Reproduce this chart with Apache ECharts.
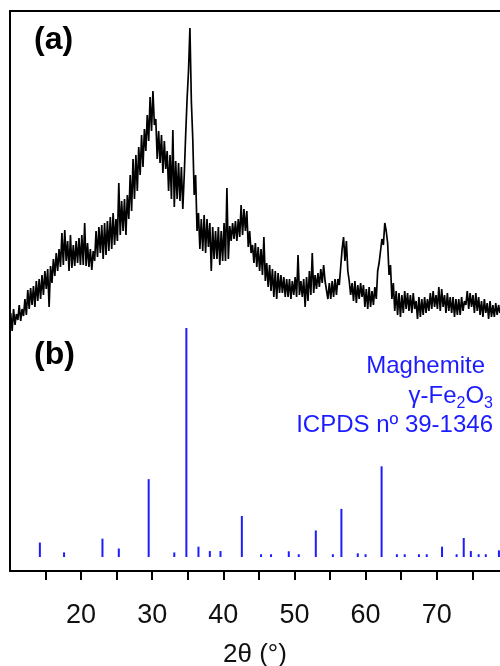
<!DOCTYPE html>
<html>
<head>
<meta charset="utf-8">
<script src="https://cdn.jsdelivr.net/npm/echarts@6/dist/echarts.min.js"></script>
<style>
  html, body { margin: 0; padding: 0; background: #fff; }
  #chart { width: 500px; height: 666px; }
</style>
</head>
<body>
<div id="chart"></div>
<script>
// (a) measured diffractogram: intensity (a.u.) on a regular 2θ scan grid
const scanStart = 10.1;   // first 2θ of the scan (°)
const scanStep = 0.2;     // 2θ step (°)
const counts = [
  258, 240, 262, 246, 257,  251, 266, 250, 262, 255,  272, 256, 281, 262, 283,
  266, 285, 264, 290, 270,  292, 272, 296, 276, 300,  282, 302, 264, 305, 288,
  312, 295, 318, 300, 322,  304, 338, 306, 341, 310,  330, 300, 336, 303, 326,
  305, 330, 308, 333, 306,  336, 306, 348, 305, 328,  304, 322, 301, 320, 310,
  340, 314, 344, 318, 346,  312, 348, 316, 350, 320,  354, 322, 358, 326, 352,
  330, 388, 336, 370, 340,  372, 336, 376, 352, 396,  360, 412, 372, 416, 380,
  424, 396, 436, 404, 442,  420, 456, 430, 474, 440,  480, 446, 452, 412, 440,
  408, 436, 398, 430, 402,  420, 380, 416, 372, 441,  364, 410, 372, 408, 370,
  404, 362, 396, 436, 472,  500, 543, 470, 432, 376,  396, 340, 358, 322, 352,
  320, 356, 318, 352, 324,  348, 300, 344, 312, 340,  312, 344, 306, 340, 310,
  348, 310, 383, 312, 345,  330, 348, 332, 350, 330,  352, 334, 366, 336, 362,
  340, 360, 324, 340, 318,  326, 308, 328, 304, 324,  300, 322, 296, 334, 290,
  308, 284, 306, 280, 302,  274, 300, 272, 298, 278,  296, 278, 294, 274, 292,
  274, 292, 272, 290, 276,  294, 274, 316, 276, 290,  274, 292, 264, 294, 270,
  300, 276, 318, 278, 296,  282, 298, 284, 302, 288,  306, 290, 290, 272, 288,
  272, 290, 274, 292, 276,  292, 286, 304, 322, 334,  310, 330, 300, 290, 276,
  288, 270, 290, 268, 286,  272, 288, 274, 286, 264,  282, 262, 284, 264, 280,
  266, 284, 272, 300, 308,  306, 332, 326, 348, 340,  328, 296, 306, 272, 288,
  260, 280, 256, 278, 254,  276, 258, 280, 262, 278,  260, 276, 258, 278, 262,
  270, 252, 274, 254, 272,  256, 274, 258, 272, 260,  278, 262, 280, 264, 276,
  262, 284, 260, 282, 264,  276, 258, 278, 260, 274,  258, 274, 254, 272, 256,
  272, 256, 274, 260, 270,  266, 280, 262, 278, 264,  276, 258, 278, 260, 274,
  256, 270, 254, 272, 258,  268, 252, 270, 254, 266,  254, 268, 256, 266, 258
];

// (b) maghemite reference lines: position 2θ (°) and relative intensity (%)
const refTwoTheta = [
  14.2, 17.6, 23.0, 25.3, 29.5, 33.1, 34.8, 36.5, 38.1, 39.6,
  42.6, 45.3, 46.7, 49.2, 50.6, 53.0, 55.4, 56.6, 58.9, 60.0,
  62.25, 64.4, 65.5, 67.5, 68.6, 70.75, 72.8, 73.8, 74.8, 75.9,
  76.9, 78.75
];
const refIntensity = [
  6.3, 2.0, 8.0, 3.7, 34, 2.0, 100, 4.5, 2.6, 2.6,
  17.9, 1.2, 1.2, 2.5, 1.2, 11.6, 1.2, 21, 1.6, 1.2,
  39.6, 1.2, 1.2, 1.2, 1.2, 4.5, 1.2, 8.3, 2.6, 1.2,
  1.2, 2.9
];

// axis ticks and labels
const tickValues = [15, 20, 25, 30, 35, 40, 45, 50, 55, 60, 65, 70, 75];
const tickLabels = [20, 30, 40, 50, 60, 70];
const xName = '2θ (°)';

const scanData = counts.map((c, i) => [+(scanStart + i * scanStep).toFixed(2), c]);
const refData = refTwoTheta.map((t, i) => [t, refIntensity[i]]);

const X_MIN = 10, X_MAX = 78.9;
const BLUE = '#1c1cff';
const FONT = '"Liberation Sans", Arial, sans-serif';

const chart = echarts.init(document.getElementById('chart'), null, { renderer: 'canvas' });

chart.setOption({
  backgroundColor: '#fff',
  animation: false,
  grid: [
    { left: 10, right: 0, top: 11, bottom: 95, containLabel: false, outerBoundsMode: 'none' },
    { left: 10, right: 0, top: 328, bottom: 109, containLabel: false, outerBoundsMode: 'none' }
  ],
  xAxis: [
    {
      type: 'value', gridIndex: 0, min: X_MIN, max: X_MAX,
      position: 'bottom',
      name: xName, nameLocation: 'middle', nameGap: 71,
      nameTextStyle: { fontFamily: FONT, fontSize: 26, color: '#111' },
      axisLine: { show: true, onZero: false, lineStyle: { color: '#000', width: 2 } },
      axisTick: { show: true, inside: false, length: 9, customValues: tickValues,
                  lineStyle: { color: '#000', width: 2 } },
      axisLabel: { show: true, customValues: tickLabels, margin: 31,
                   fontFamily: FONT, fontSize: 27, color: '#111' },
      splitLine: { show: false }
    },
    {
      type: 'value', gridIndex: 0, min: X_MIN, max: X_MAX,
      position: 'top',
      axisLine: { show: true, onZero: false, lineStyle: { color: '#000', width: 2 } },
      axisTick: { show: false }, axisLabel: { show: false }, splitLine: { show: false }
    },
    {
      type: 'value', gridIndex: 1, min: X_MIN, max: X_MAX, show: false
    }
  ],
  yAxis: [
    {
      type: 'value', gridIndex: 0, min: 0, max: 560,
      axisLine: { show: true, onZero: false, lineStyle: { color: '#000', width: 2 } },
      axisTick: { show: false }, axisLabel: { show: false }, splitLine: { show: false }
    },
    {
      type: 'value', gridIndex: 1, min: 0, max: 100, show: false
    }
  ],
  series: [
    {
      type: 'line', xAxisIndex: 0, yAxisIndex: 0,
      data: scanData, showSymbol: false, sampling: false,
      lineStyle: { color: '#000', width: 1.7 },
      z: 3
    },
    {
      type: 'custom', xAxisIndex: 2, yAxisIndex: 1,
      data: refData,
      renderItem: function (params, api) {
        const p0 = api.coord([api.value(0), 0]);
        const p1 = api.coord([api.value(0), api.value(1)]);
        return {
          type: 'line',
          shape: { x1: p0[0], y1: p0[1], x2: p1[0], y2: p1[1] },
          style: { stroke: BLUE, lineWidth: 2 }
        };
      },
      z: 2
    }
  ],
  graphic: [
    { type: 'text', left: 34, top: 24,
      style: { text: '(a)', font: 'bold 32px ' + FONT, fill: '#000' } },
    { type: 'text', left: 34, top: 339,
      style: { text: '(b)', font: 'bold 32px ' + FONT, fill: '#000' } },
    { type: 'text', right: 15, top: 354,
      style: { text: 'Maghemite', font: '24px ' + FONT, fill: BLUE } },
    { type: 'text', right: 7, top: 384,
      style: {
        text: '{n|γ-Fe}{s|2}{n|O}{s|3}',
        rich: {
          n: { font: '24px ' + FONT, fill: BLUE, verticalAlign: 'bottom', lineHeight: 28 },
          s: { font: '16px ' + FONT, fill: BLUE, verticalAlign: 'bottom', lineHeight: 20, padding: [0, 0, -4, 0] }
        }
      } },
    { type: 'text', right: 7, top: 413,
      style: { text: 'ICPDS nº 39-1346', font: '24px ' + FONT, fill: BLUE } }
  ]
});
</script>
</body>
</html>
